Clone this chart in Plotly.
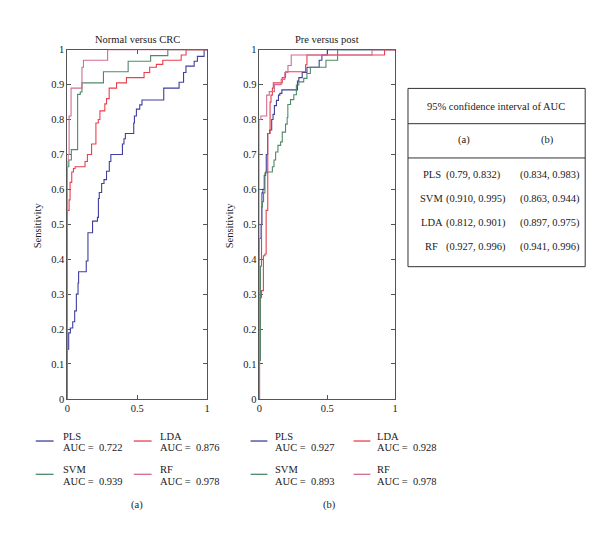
import plotly.graph_objects as go

# ---------------- data ----------------
MODELS = ["PLS", "SVM", "LDA", "RF"]
COLORS = {"PLS": "#3f3f9c", "SVM": "#4f8a68", "LDA": "#e8404c", "RF": "#d36b92"}

# Panel (a): Normal versus CRC
A_PLS_FPR = [0, 0, 0.009, 0.021, 0.038, 0.052, 0.064, 0.076, 0.080, 0.135, 0.147, 0.180, 0.215, 0.222, 0.228, 0.245,
             0.262, 0.280, 0.300, 0.311, 0.394, 0.405, 0.415, 0.475, 0.480, 0.494, 0.518, 0.534, 0.690, 0.800, 0.832,
             0.849, 0.908, 0.931, 0.979, 1.0]
A_PLS_TPR = [0, 0.142, 0.189, 0.203, 0.221, 0.252, 0.300, 0.332, 0.364, 0.395, 0.476, 0.509, 0.520, 0.574, 0.591, 0.617,
             0.628, 0.652, 0.680, 0.700, 0.730, 0.745, 0.760, 0.790, 0.810, 0.830, 0.842, 0.856, 0.890, 0.907, 0.935,
             0.953, 0.967, 0.981, 1.0, 1.0]
A_SVM_FPR = [0, 0, 0.010, 0.028, 0.073, 0.092, 0.104, 0.258, 0.435, 0.596, 0.719, 1.0]
A_SVM_TPR = [0, 0.665, 0.684, 0.714, 0.872, 0.879, 0.905, 0.937, 0.967, 0.983, 1.0, 1.0]
A_LDA_FPR = [0, 0, 0.012, 0.019, 0.031, 0.043, 0.055, 0.126, 0.143, 0.173, 0.204, 0.221, 0.233, 0.268, 0.280, 0.299,
             0.352, 0.423, 0.549, 0.589, 0.637, 0.683, 0.815, 0.850, 1.0]
A_LDA_TPR = [0, 0.540, 0.570, 0.620, 0.650, 0.660, 0.665, 0.680, 0.700, 0.730, 0.790, 0.800, 0.825, 0.845, 0.860, 0.890,
             0.905, 0.920, 0.935, 0.950, 0.958, 0.970, 0.985, 1.0, 1.0]
A_RF_FPR = [0, 0, 0.005, 0.012, 0.026, 0.104, 0.115, 0.288, 1.0]
A_RF_TPR = [0, 0.680, 0.700, 0.810, 0.890, 0.950, 0.970, 1.0, 1.0]

# Panel (b): Pre versus post
B_PLS_FPR = [0, 0, 0.012, 0.018, 0.025, 0.035, 0.045, 0.050, 0.060, 0.075, 0.090, 0.100, 0.110, 0.125, 0.140, 0.150,
             0.165, 0.280, 0.290, 0.315, 0.350, 0.440, 0.460, 0.500, 1.0]
B_PLS_TPR = [0, 0.460, 0.500, 0.590, 0.600, 0.640, 0.650, 0.700, 0.760, 0.770, 0.800, 0.815, 0.840, 0.855, 0.870, 0.875,
             0.885, 0.910, 0.920, 0.935, 0.950, 0.970, 0.985, 1.0, 1.0]
B_SVM_FPR = [0, 0, 0.007, 0.015, 0.022, 0.030, 0.040, 0.058, 0.095, 0.107, 0.119, 0.136, 0.156, 0.168, 0.192, 0.204,
             0.209, 0.229, 0.253, 0.272, 0.290, 0.326, 0.350, 0.375, 0.490, 0.576, 1.0]
B_SVM_TPR = [0, 0.110, 0.380, 0.550, 0.565, 0.590, 0.647, 0.650, 0.665, 0.684, 0.707, 0.726, 0.736, 0.764, 0.787, 0.806,
             0.843, 0.857, 0.871, 0.899, 0.908, 0.918, 0.932, 0.950, 0.970, 1.0, 1.0]
B_LDA_FPR = [0, 0, 0.015, 0.029, 0.040, 0.049, 0.061, 0.078, 0.085, 0.095, 0.102, 0.168, 0.192, 0.340, 0.350, 0.922, 1.0]
B_LDA_TPR = [0, 0.290, 0.310, 0.410, 0.415, 0.540, 0.760, 0.850, 0.870, 0.890, 0.905, 0.920, 0.937, 0.957, 0.985, 1.0, 1.0]
B_RF_FPR = [0, 0, 0.010, 0.053, 0.072, 0.110, 0.160, 0.186, 0.210, 0.234, 0.830, 1.0]
B_RF_TPR = [0, 0.800, 0.810, 0.870, 0.880, 0.900, 0.915, 0.935, 0.955, 0.985, 1.0, 1.0]

AUC_A = [0.722, 0.939, 0.876, 0.978]   # PLS, SVM, LDA, RF
AUC_B = [0.927, 0.893, 0.928, 0.978]

X_TICKS = [0, 0.5, 1]
X_TICK_LABELS = ["0", "0.5", "1"]
Y_TICKS = [0, 0.1, 0.2, 0.3, 0.4, 0.5, 0.6, 0.7, 0.8, 0.9, 1]
Y_TICK_LABELS = ["0", "0.1", "0.2", "0.3", "0.4", "0.5", "0.6", "0.7", "0.8", "0.9", "1"]

TABLE_TITLE = "95% confidence interval of AUC"
TABLE_COLS = ["(a)", "(b)"]
TABLE_ROWS = ["PLS", "SVM", "LDA", "RF"]
CI_A = ["(0.79, 0.832)", "(0.910, 0.995)", "(0.812, 0.901)", "(0.927, 0.996)"]
CI_B = ["(0.834, 0.983)", "(0.863, 0.944)", "(0.897, 0.975)", "(0.941, 0.996)"]

# ---------------- figure ----------------
W, H = 600, 535
FONT = "Liberation Serif"
FS = 10.5
TXT = "#1a1a1a"
AX = "#555555"


def px(x):
    return x / W


def py(y):
    return 1 - y / H


fig = go.Figure()

series_a = {"PLS": (A_PLS_FPR, A_PLS_TPR), "SVM": (A_SVM_FPR, A_SVM_TPR),
            "LDA": (A_LDA_FPR, A_LDA_TPR), "RF": (A_RF_FPR, A_RF_TPR)}
series_b = {"PLS": (B_PLS_FPR, B_PLS_TPR), "SVM": (B_SVM_FPR, B_SVM_TPR),
            "LDA": (B_LDA_FPR, B_LDA_TPR), "RF": (B_RF_FPR, B_RF_TPR)}

for axes, series in ((("x", "y"), series_a), (("x2", "y2"), series_b)):
    for m in MODELS:
        fx, ty = series[m]
        fig.add_trace(go.Scatter(x=fx, y=ty, mode="lines", xaxis=axes[0], yaxis=axes[1],
                                 line=dict(color=COLORS[m], width=1.1, shape="hv"),
                                 showlegend=False, hoverinfo="skip", cliponaxis=False))

ydom = [py(394), py(37.5)]
axis_common = dict(showline=True, linecolor=AX, linewidth=1, mirror="ticks", ticks="inside",
                   ticklen=4, tickcolor=AX, showgrid=False, zeroline=False, range=[0, 1],
                   tickfont=dict(family=FONT, size=FS, color=TXT), layer="below traces")

fig.update_layout(
    width=W, height=H, margin=dict(l=0, r=0, t=0, b=0),
    paper_bgcolor="white", plot_bgcolor="white",
    font=dict(family=FONT, size=FS, color=TXT),
    xaxis=dict(domain=[px(57), px(198)], anchor="y", tickvals=X_TICKS, ticktext=X_TICK_LABELS, **axis_common),
    yaxis=dict(domain=ydom, anchor="x", tickvals=Y_TICKS, ticktext=Y_TICK_LABELS, **axis_common),
    xaxis2=dict(domain=[px(251), px(388)], anchor="y2", tickvals=X_TICKS, ticktext=X_TICK_LABELS, **axis_common),
    yaxis2=dict(domain=ydom, anchor="x2", tickvals=Y_TICKS, ticktext=Y_TICK_LABELS, **axis_common),
)

annotations = []
shapes = []


def text(x, y, s, xanchor="center", size=FS, angle=0):
    annotations.append(dict(x=px(x), y=py(y), xref="paper", yref="paper", text=s, showarrow=False,
                            xanchor=xanchor, yanchor="middle", textangle=angle,
                            font=dict(family=FONT, size=size, color=TXT)))


# titles
text(127.5, 27, "Normal versus CRC")
text(319.5, 27, "Pre versus post")
text(27, 217, "Sensitivity", angle=-90)
text(221, 217, "Sensitivity", angle=-90)

# legends
leg_cols_a = [(25, 43, 50), (124, 142, 148)]
leg_cols_b = [(242, 259, 265), (346, 363, 368)]
leg_rows = [(437, 432, 444), (471, 466, 478)]
leg_layout = {"PLS": (0, 0), "LDA": (1, 0), "SVM": (0, 1), "RF": (1, 1)}
for cols, aucs in ((leg_cols_a, AUC_A), (leg_cols_b, AUC_B)):
    for i, m in enumerate(MODELS):
        c, r = leg_layout[m]
        lx0, lx1, tx = cols[c]
        ly, ty1, ty2 = leg_rows[r]
        shapes.append(dict(type="line", xref="paper", yref="paper", x0=px(lx0), x1=px(lx1), y0=py(ly), y1=py(ly),
                           line=dict(color=COLORS[m], width=1.3)))
        text(tx, ty1, m, xanchor="left")
        text(tx, ty2, "AUC =  %.3f" % aucs[i], xanchor="left")

text(127.5, 502, "(a)")
text(322, 502, "(b)")

# table
tb_l, tb_r, tb_t, tb_b = 401, 580, 77, 259
shapes.append(dict(type="rect", xref="paper", yref="paper", x0=px(tb_l), x1=px(tb_r), y0=py(tb_b), y1=py(tb_t),
                   line=dict(color="#333333", width=1)))
for yl in (113, 148):
    shapes.append(dict(type="line", xref="paper", yref="paper", x0=px(tb_l), x1=px(tb_r), y0=py(yl), y1=py(yl),
                       line=dict(color="#333333", width=1)))
text(490, 95, TABLE_TITLE)
text(458, 130, TABLE_COLS[0])
text(542, 130, TABLE_COLS[1])
row_y = [165, 189.5, 214, 238.5]
for i, name in enumerate(TABLE_ROWS):
    text(425, row_y[i], name)
    text(437, row_y[i], CI_A[i], xanchor="left")
    text(512, row_y[i], CI_B[i], xanchor="left")

fig.update_layout(annotations=annotations, shapes=shapes)
fig.write_html("out.html")
